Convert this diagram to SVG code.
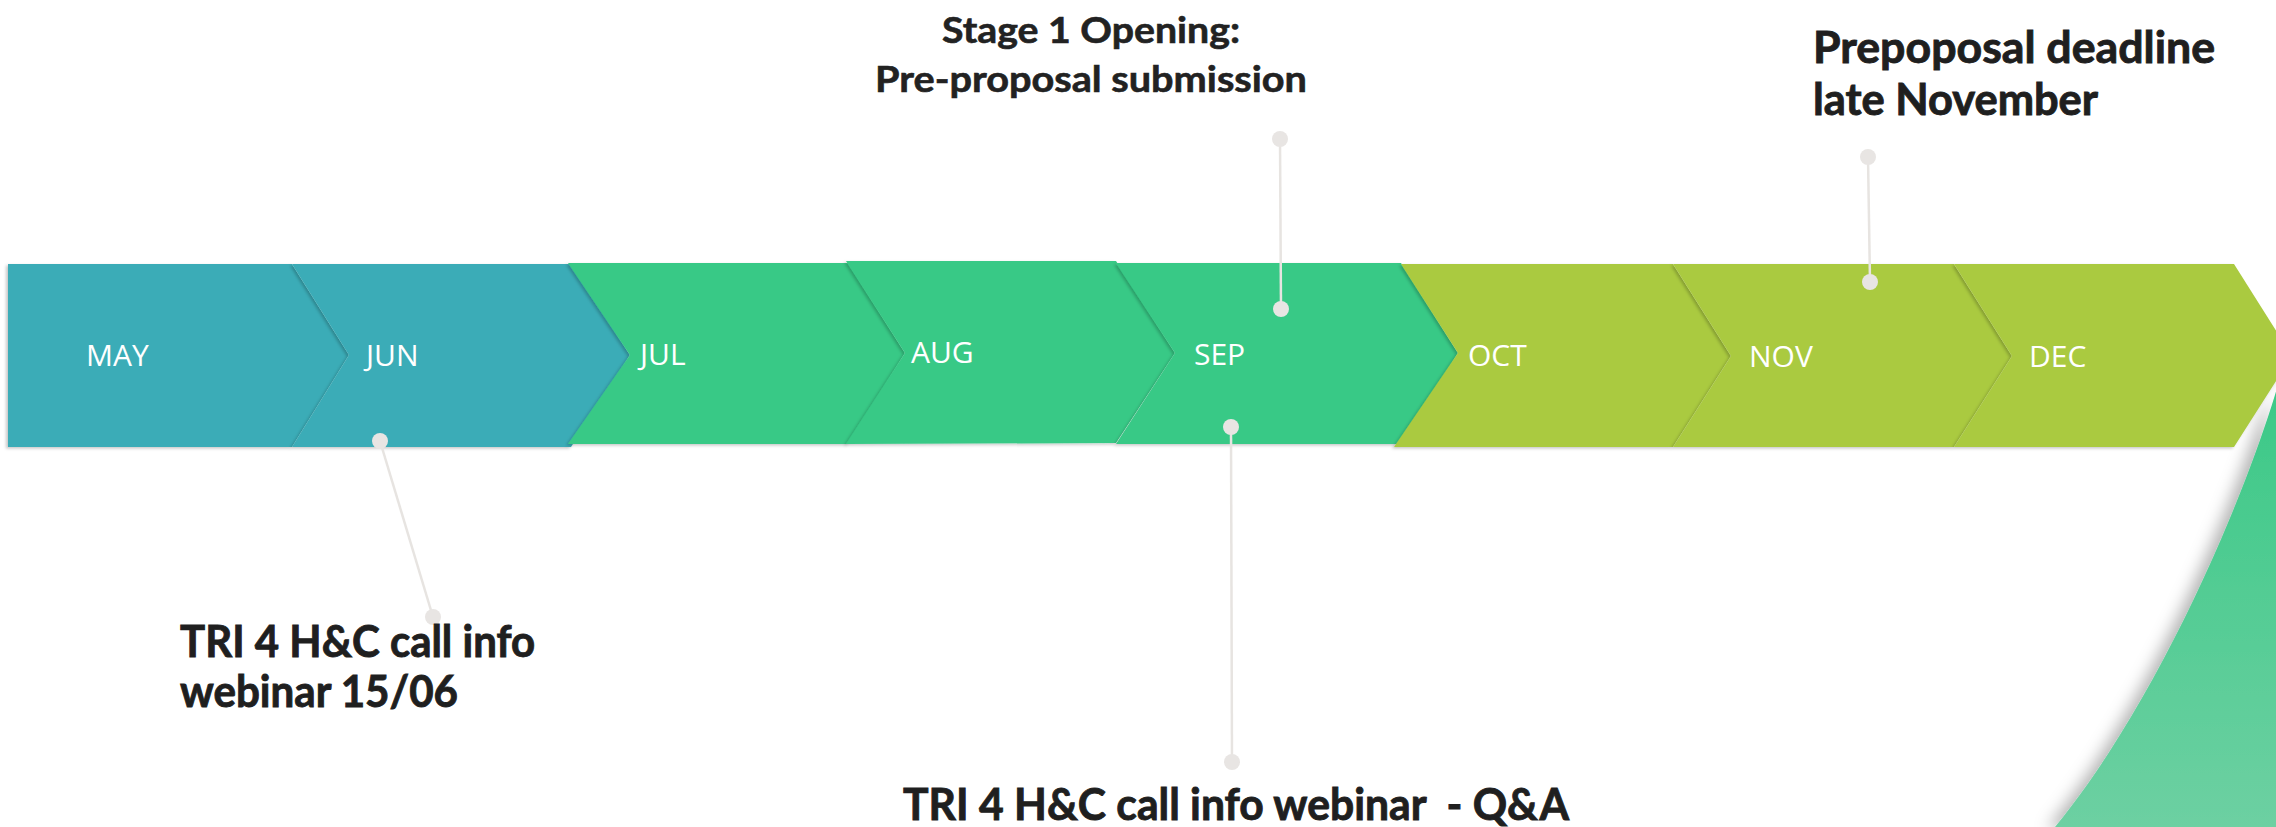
<svg xmlns="http://www.w3.org/2000/svg" width="2276" height="827" viewBox="0 0 2276 827">
<defs>
<style>
.teal{fill:#3aacb7}
.green{fill:#38c986}
.lime{fill:#aaca41}
.mon{font-family:"Open Sans","Liberation Sans",sans-serif;font-size:30px;fill:#ffffff}
.lbl{font-family:Lato,"Liberation Sans",sans-serif;font-weight:700;font-size:43px;fill:#1f1f1f;stroke:#1f1f1f;stroke-width:0.9}
.lbl2{font-family:Lato,"Liberation Sans",sans-serif;font-weight:700;font-size:37px;fill:#222222;stroke:#222222;stroke-width:0.6}
.con{stroke:#e7e4e1;stroke-width:2.5;fill:none}
.dot{fill:#e8e5e3}
</style>
<filter id="sh" x="-5%" y="-10%" width="110%" height="125%">
<feDropShadow dx="-2" dy="1.5" stdDeviation="1.5" flood-color="#000" flood-opacity="0.22"/>
</filter>
<filter id="sw" x="-30%" y="-10%" width="140%" height="120%">
<feDropShadow dx="-8" dy="2" stdDeviation="8" flood-color="#000" flood-opacity="0.3"/>
</filter>
<linearGradient id="g" x1="0" y1="0" x2="0" y2="1">
<stop offset="0" stop-color="#36c884"/>
<stop offset="1" stop-color="#6dd0a2"/>
</linearGradient>
</defs>
<rect width="2276" height="827" fill="#ffffff"/>
<g id="swoosh"><path d="M2290 340 C2260 470 2160 700 2055 827 L2276 827 L2276 340 Z" fill="url(#g)" filter="url(#sw)"/></g>
<g id="chevrons">
<g id="may"><polygon class="teal" filter="url(#sh)" points="8,264 292,264 349,355 292,447 8,447"/><text class="mon" x="86" y="366">MAY</text></g>
<g id="jun"><polygon class="teal" filter="url(#sh)" points="292,264 571,264 630,355 571,447 292,447 349,355"/><text class="mon" x="366" y="366">JUN</text></g>
<g id="jul"><polygon class="green" filter="url(#sh)" points="568,263 848,263 905,353 848,444 568,444 630,355"/><text class="mon" x="640" y="365">JUL</text></g>
<g id="aug"><polygon class="green" filter="url(#sh)" points="846,261 1116,261 1175,353 1116,443 846,444 905,353"/><text class="mon" x="911" y="363">AUG</text></g>
<g id="sep"><polygon class="green" filter="url(#sh)" points="1116,263 1401,263 1458,353 1401,444 1116,444 1175,353"/><text class="mon" x="1194" y="365">SEP</text></g>
<g id="oct"><polygon class="lime" filter="url(#sh)" points="1401,264 1673,264 1731,356 1673,447 1394,447 1458,353"/><text class="mon" x="1468" y="366">OCT</text></g>
<g id="nov"><polygon class="lime" filter="url(#sh)" points="1673,264 1954,264 2012,356 1954,447 1673,447 1731,356"/><text class="mon" x="1749" y="367">NOV</text></g>
<g id="dec"><polygon class="lime" filter="url(#sh)" points="1954,264 2234,264 2292,356 2234,447 1954,447 2012,356"/><text class="mon" x="2029" y="367">DEC</text></g>
</g>
<g id="connectors">
<line class="con" x1="380" y1="441" x2="433" y2="617"/>
<line class="con" x1="1280" y1="139" x2="1281" y2="309"/>
<line class="con" x1="1231" y1="427" x2="1232" y2="762"/>
<line class="con" x1="1868" y1="157" x2="1870" y2="282"/>
<circle class="dot" cx="380" cy="441" r="8"/>
<circle class="dot" cx="433" cy="617" r="8"/>
<circle class="dot" cx="1280" cy="139" r="8"/>
<circle class="dot" cx="1281" cy="309" r="8"/>
<circle class="dot" cx="1231" cy="427" r="8"/>
<circle class="dot" cx="1232" cy="762" r="8"/>
<circle class="dot" cx="1868" cy="157" r="8"/>
<circle class="dot" cx="1870" cy="282" r="8"/>
</g>
<g id="label-stage1">
<text class="lbl2" x="1091" y="43" text-anchor="middle" textLength="298" lengthAdjust="spacingAndGlyphs">Stage 1 Opening:</text>
<text class="lbl2" x="1091" y="92" text-anchor="middle" textLength="432" lengthAdjust="spacingAndGlyphs">Pre-proposal submission</text>
</g>
<g id="label-deadline">
<text class="lbl" x="1813" y="63" textLength="402" lengthAdjust="spacingAndGlyphs">Prepoposal deadline</text>
<text class="lbl" x="1813" y="115" textLength="285" lengthAdjust="spacingAndGlyphs">late November</text>
</g>
<g id="label-webinar1">
<text class="lbl" x="180" y="657" textLength="355" lengthAdjust="spacingAndGlyphs">TRI 4 H&amp;C call info</text>
<text class="lbl" x="180" y="707" textLength="278" lengthAdjust="spacingAndGlyphs">webinar 15/06</text>
</g>
<g id="label-webinar2">
<text class="lbl" x="903" y="820" style="white-space:pre" textLength="666" lengthAdjust="spacingAndGlyphs">TRI 4 H&amp;C call info webinar  - Q&amp;A</text>
</g>
</svg>
